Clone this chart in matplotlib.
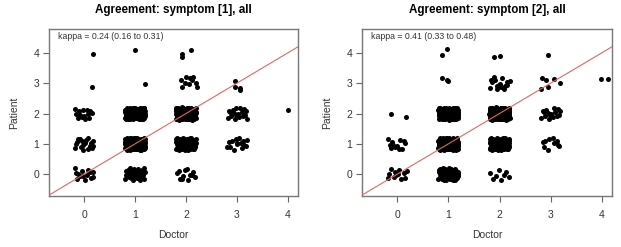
import numpy as np
import matplotlib
matplotlib.use("Agg")
import matplotlib.pyplot as plt

#----- Data -----#

# cells with many ratings: doctor score, patient score, number of subjects
s1_doctor = [0, 0, 0, 1, 1, 1, 2, 2, 2, 3, 3]
s1_patient = [2, 1, 0, 2, 1, 0, 2, 1, 0, 2, 1]
s1_count = [14, 18, 14, 110, 110, 30, 110, 80, 12, 18, 15]

# sparse cells, points read directly (jittered positions)
s1_sparse_x = [0.18, 0.15, 1.00, 1.19, 1.92, 1.93, 2.10,
               1.90, 2.01, 2.08, 2.14, 1.98, 2.05, 2.20, 2.21, 1.92, 2.11,
               2.97, 2.97, 3.07, 3.07, 4.01]
s1_sparse_y = [3.97, 2.89, 4.08, 2.97, 3.97, 3.86, 4.09,
               3.09, 3.22, 3.18, 3.22, 3.00, 2.98, 3.00, 2.89, 2.87, 3.12,
               3.07, 2.87, 2.85, 2.79, 2.10]

s2_doctor = [0, 0, 1, 1, 1, 2, 2, 2, 2, 3, 3]
s2_patient = [1, 0, 2, 1, 0, 3, 2, 1, 0, 2, 1]
s2_count = [12, 12, 90, 110, 50, 16, 120, 85, 8, 16, 10]

s2_sparse_x = [-0.12, 0.18, 0.88, 0.97, 0.87, 0.97, 1.00, 1.90, 2.01,
               2.94, 2.83, 2.81, 2.94, 3.06, 3.19, 2.90, 3.99, 4.12]
s2_sparse_y = [2.00, 1.89, 3.94, 4.13, 3.17, 3.12, 3.06, 3.86, 3.89,
               3.94, 3.18, 2.82, 2.89, 3.15, 3.00, 3.12, 3.15, 3.15]

titles = ["Agreement: symptom [1], all", "Agreement: symptom [2], all"]
kappa_txt = ["kappa = 0.24 (0.16 to 0.31)", "kappa = 0.41 (0.33 to 0.48)"]

#----- Helpers -----#

def halton(i, base):
    f, r = 1.0, 0.0
    while i > 0:
        f /= base
        r += f * (i % base)
        i //= base
    return r


def jittered(doctor, patient, count, amount=0.2):
    xs, ys = [], []
    for k, (d, p, n) in enumerate(zip(doctor, patient, count)):
        start = 1 + 37 * k
        for i in range(start, start + n):
            xs.append(d + (2 * halton(i, 2) - 1) * amount)
            ys.append(p + (2 * halton(i, 3) - 1) * amount)
    return np.array(xs), np.array(ys)

#----- Plot -----#

plt.rcParams['font.family'] = ['Liberation Sans', 'DejaVu Sans']

fig = plt.figure(figsize=(6.21, 2.47), dpi=100)
positions = [[49 / 621, 51 / 247, 249 / 621, 166.5 / 247],
             [362 / 621, 51 / 247, 250 / 621, 166.5 / 247]]

panels = [
    (s1_doctor, s1_patient, s1_count, s1_sparse_x, s1_sparse_y),
    (s2_doctor, s2_patient, s2_count, s2_sparse_x, s2_sparse_y),
]

for idx, (doc, pat, cnt, sx, sy) in enumerate(panels):
    ax = fig.add_axes(positions[idx])
    jx, jy = jittered(doc, pat, cnt)
    x_all = np.concatenate([jx, sx])
    y_all = np.concatenate([jy, sy])
    ax.scatter(x_all, y_all, s=13, color="black", linewidths=0, zorder=2)

    ax.set_xlim(-0.69, 4.2)
    ax.set_ylim(-0.72, 4.77)
    ax.axline((0, 0), slope=1, color="#e06666", linewidth=0.8, zorder=3)

    ax.set_xticks(range(5))
    ax.set_yticks(range(5))
    ax.tick_params(direction="out", length=4, width=0.8, color="#666666",
                   labelsize=7.5, labelcolor="#333333")
    ax.tick_params(axis="x", pad=6)
    ax.tick_params(axis="y", pad=3)
    for sp in ax.spines.values():
        sp.set_color("#777777")
        sp.set_linewidth(1.0)

    ax.set_xlabel("Doctor", fontsize=7.5, color="#333333", labelpad=7)
    ax.set_ylabel("Patient", fontsize=7.5, color="#333333", labelpad=10)
    ax.set_title(titles[idx], fontsize=8.4, fontweight="bold", pad=12)
    ax.text(0.035, 0.985, kappa_txt[idx], transform=ax.transAxes,
            fontsize=6.3, color="#333333", ha="left", va="top")

fig.savefig("out.png", dpi=100)
